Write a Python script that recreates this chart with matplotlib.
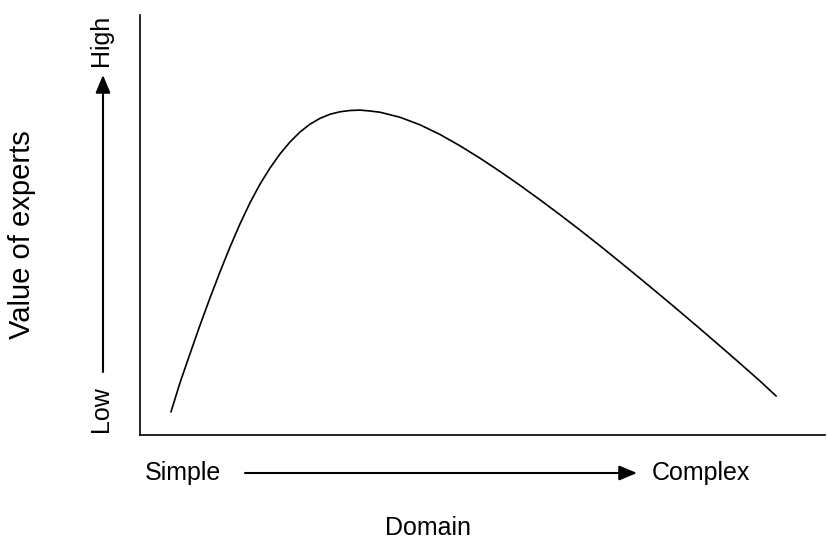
import numpy as np
import matplotlib
matplotlib.use("Agg")
import matplotlib.pyplot as plt

plt.rcParams['font.family'] = ['Liberation Sans', 'DejaVu Sans']

# =============================================================================
# curve (arbitrary 0-100 units)
# =============================================================================
domain = [4.53, 5.84, 7.30, 8.76, 10.22, 11.68, 13.14, 14.60, 16.06, 17.52,
          18.98, 20.44, 21.90, 23.36, 24.82, 26.28, 27.74, 29.20, 30.66, 32.12,
          33.58, 35.04, 37.96, 40.88, 43.80, 46.72, 49.64, 52.55, 55.47, 58.39,
          61.31, 64.23, 67.15, 70.07, 72.99, 75.91, 78.83, 81.75, 84.67, 87.59,
          90.51, 92.85]
value = [5.55, 12.45, 19.34, 26.14, 32.64, 38.85, 44.76, 50.27, 55.30, 59.73,
         63.57, 66.92, 69.78, 72.14, 74.01, 75.39, 76.37, 76.96, 77.26, 77.36,
         77.14, 76.85, 75.65, 73.85, 71.55, 68.85, 65.90, 62.75, 59.45, 56.00,
         52.45, 48.80, 45.05, 41.20, 37.30, 33.35, 29.35, 25.30, 21.20, 17.05,
         12.85, 9.30]

fig = plt.figure(figsize=(8.27, 5.5), dpi=100)
ax = fig.add_axes([140/827, 115/550, 685/827, 420/550])

ax.plot(domain, value, color='black', lw=1.2, solid_joinstyle='round')
ax.set_xlim(0, 100)
ax.set_ylim(0, 100)
ax.set_xticks([])
ax.set_yticks([])
ax.spines['top'].set_visible(False)
ax.spines['right'].set_visible(False)
ax.spines['left'].set_linewidth(1.2)
ax.spines['bottom'].set_linewidth(1.2)

def fx(px):
    return px / 827

def fy(py):
    return 1 - py / 550

# horizontal labels and arrow
fig.text(fx(145), fy(473), 'Simple', fontsize=18, ha='left', va='center')
fig.text(fx(652), fy(473), 'Complex', fontsize=18, ha='left', va='center')
fig.text(fx(428), fy(528), 'Domain', fontsize=18, ha='center', va='center')
fig.patches.append(matplotlib.patches.FancyArrowPatch(
    (fx(245), fy(473)), (fx(637), fy(473)), transform=fig.transFigure,
    arrowstyle='-|>,head_length=0.6,head_width=0.25', mutation_scale=18,
    color='black', lw=1.5, shrinkA=0, shrinkB=0))

# vertical labels and arrow
fig.text(fx(101), fy(40), 'High', fontsize=18, rotation=90, ha='center', va='center')
fig.text(fx(101), fy(409), 'Low', fontsize=18, rotation=90, ha='center', va='center')
fig.text(fx(22), fy(235), 'Value of experts', fontsize=21, rotation=90,
         ha='center', va='center')
fig.patches.append(matplotlib.patches.FancyArrowPatch(
    (fx(103), fy(372)), (fx(103), fy(75)), transform=fig.transFigure,
    arrowstyle='-|>,head_length=0.6,head_width=0.25', mutation_scale=18,
    color='black', lw=1.5, shrinkA=0, shrinkB=0))

fig.savefig('out.png', dpi=100)
